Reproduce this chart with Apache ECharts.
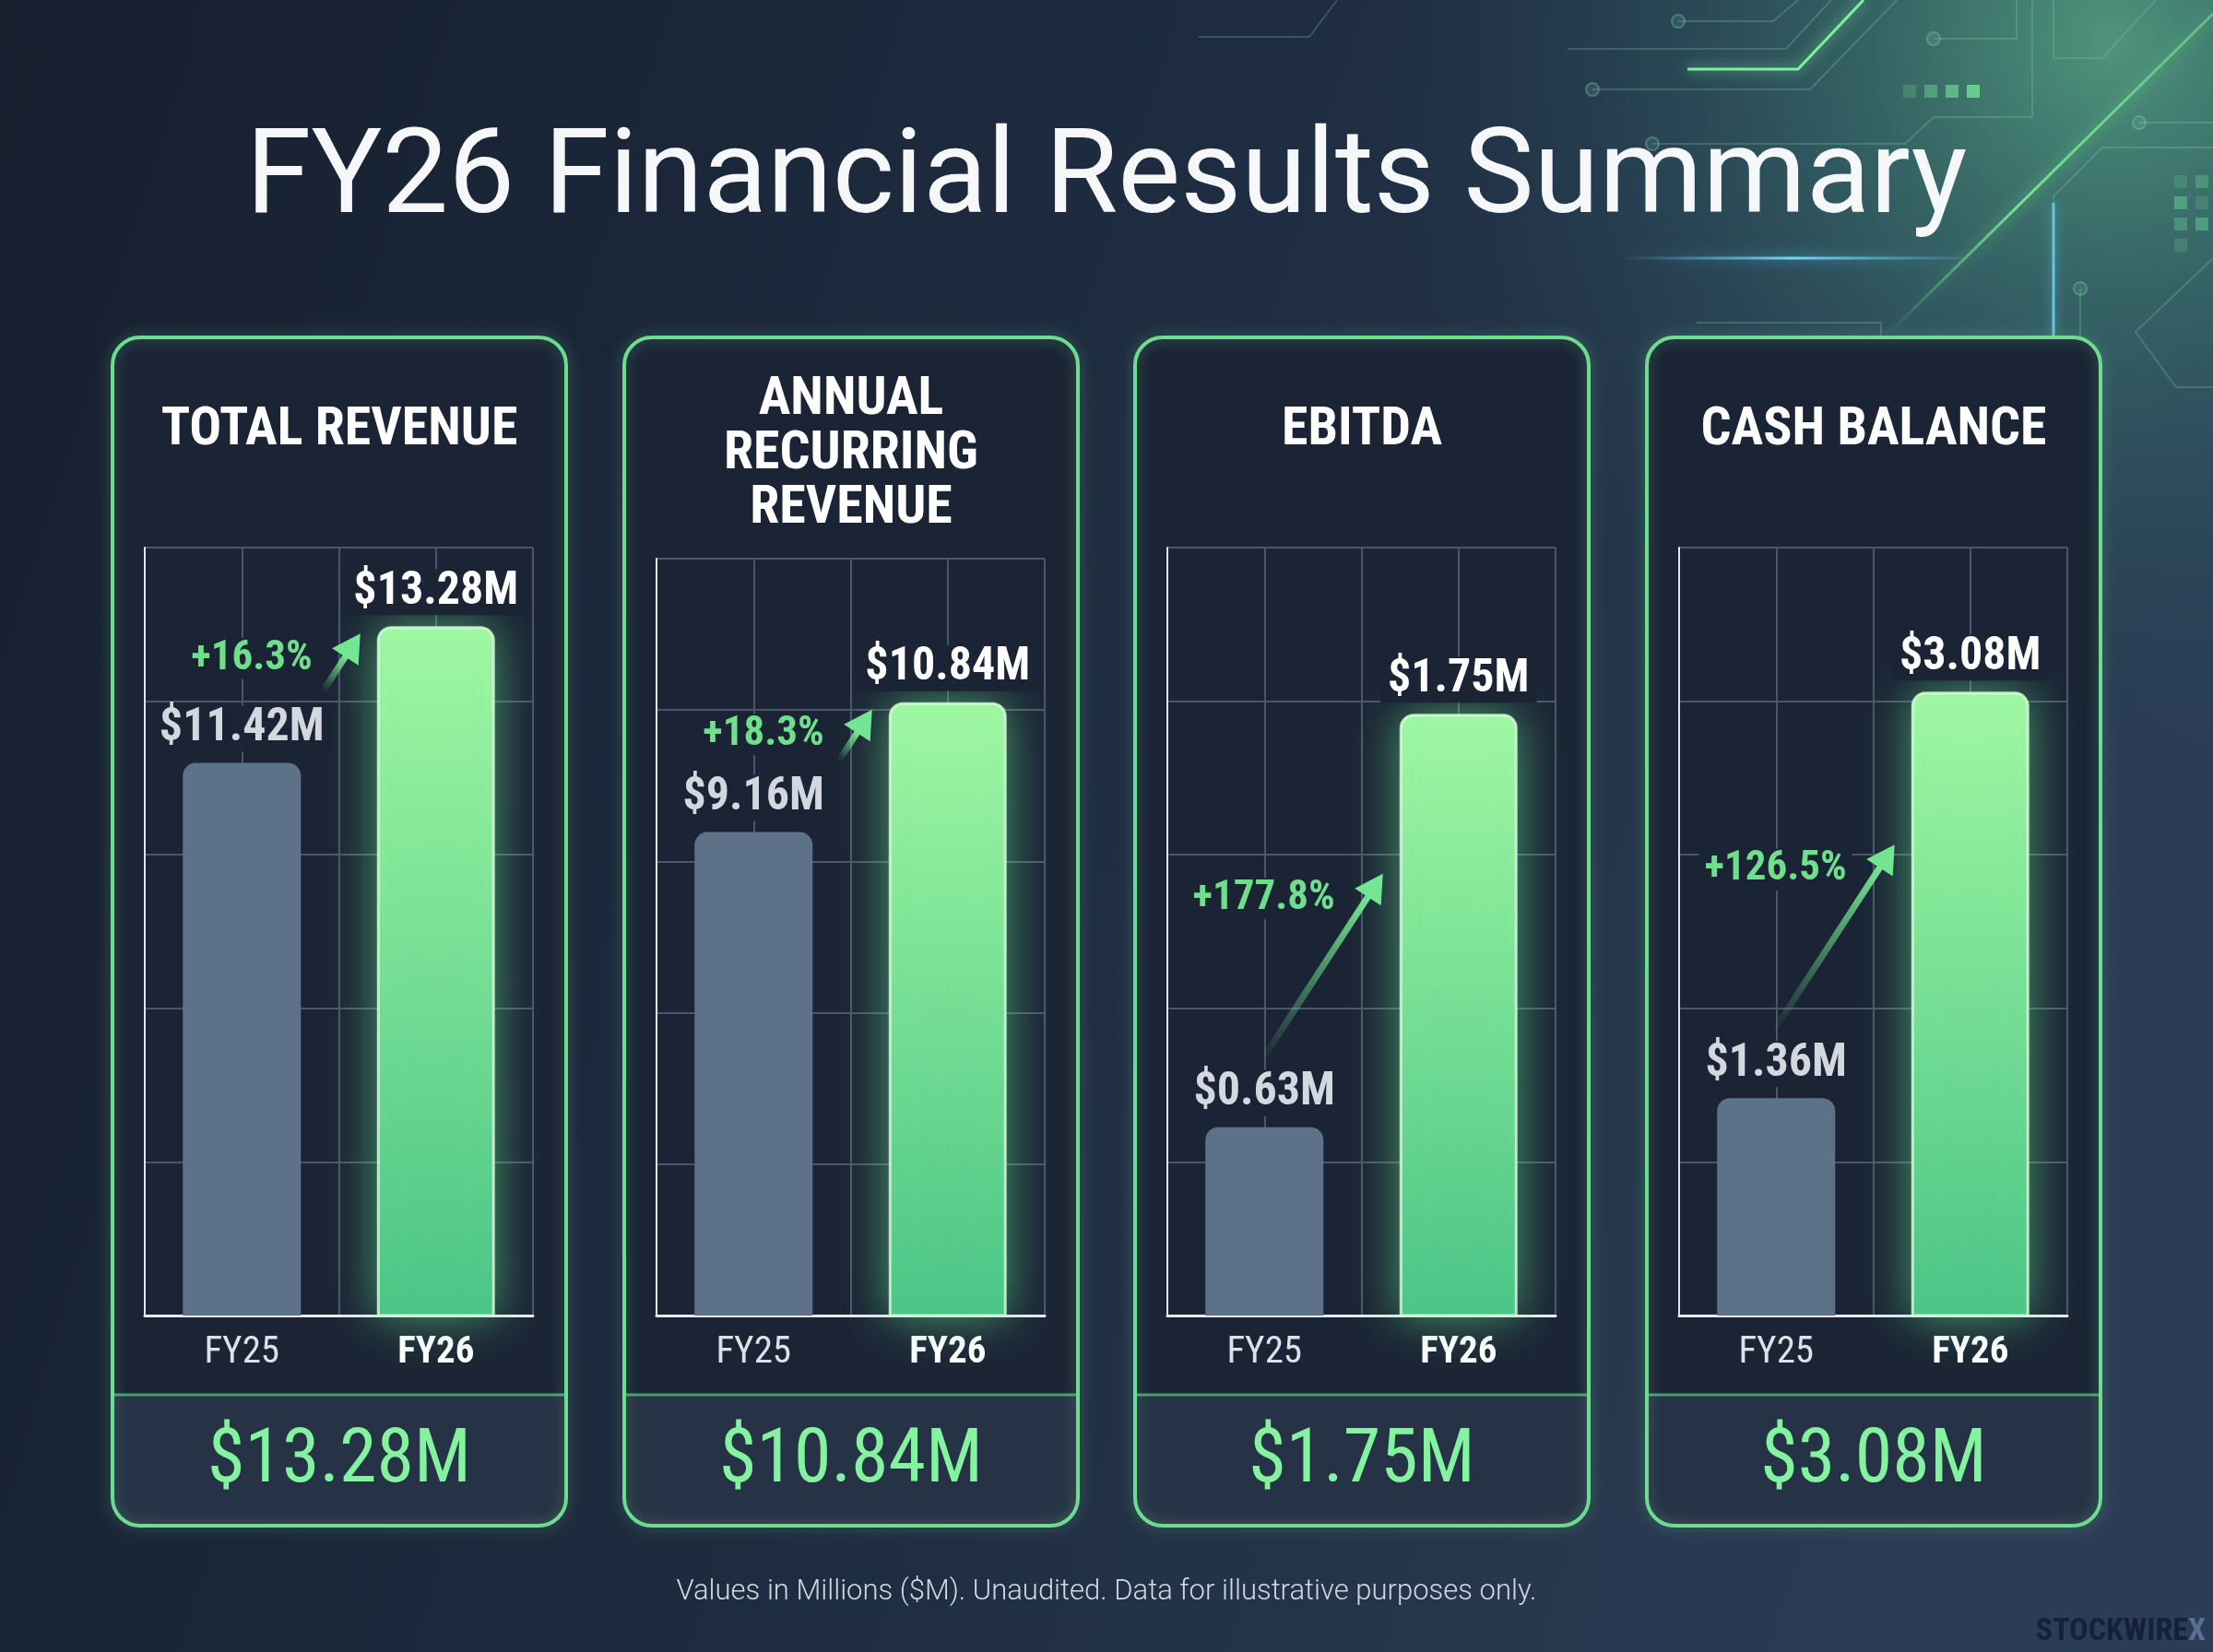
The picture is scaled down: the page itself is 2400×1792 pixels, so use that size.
<!DOCTYPE html>
<html>
<head>
<meta charset="utf-8">
<title>FY26 Financial Results Summary</title>
<script src="https://cdn.jsdelivr.net/npm/echarts@6/dist/echarts.min.js"></script>
<style>
  html, body { margin: 0; padding: 0; background: #182232; }
  #main { width: 2400px; height: 1792px; }
</style>
</head>
<body>
<div id="main"></div>
<script>
// data
var categories = ['FY25', 'FY26'];
var panelTitles = ['TOTAL REVENUE', 'ANNUAL\nRECURRING\nREVENUE', 'EBITDA', 'CASH BALANCE'];
var fy25Values = [11.42, 9.16, 0.63, 1.36];
var fy26Values = [13.28, 10.84, 1.75, 3.08];
// each panel has its own value range (as in the original picture)
var axisMin = [3.9, 2.9, 0.12, 0.44];
var axisMax = [14.35, 12.7, 2.2, 3.69];

var NARROW = '"Liberation Sans Narrow", "Roboto Condensed", Roboto, sans-serif';
var CARD_BG = '#1a2434';
var GREEN = '#6ddc8f';

// layout
var cardX = [122, 677, 1231, 1786];
var cardW = 492, cardTop = 366, cardBottom = 1655, cardDivider = 1513;
var plotTop = [594, 606, 594, 594];
var plotBottom = 1427;

var myChart = echarts.init(document.getElementById('main'));

var grids = [], xAxes = [], yAxes = [], series = [];
for (var i = 0; i < 4; i++) {
  grids.push({ left: cardX[i] + 35, top: plotTop[i], width: 421, height: plotBottom - plotTop[i] });

  // category axis (bars + labels)
  xAxes.push({
    type: 'category', gridIndex: i, data: categories,
    axisLine: { show: true, lineStyle: { color: '#e6eaef', width: 3 } },
    axisTick: { show: false },
    splitLine: { show: false },
    axisLabel: {
      margin: 20,
      formatter: function (v, idx) { return idx === 1 ? '{b|' + v + '}' : '{a|' + v + '}'; },
      rich: {
        a: { fontFamily: NARROW, fontSize: 41, color: '#dde2e8' },
        b: { fontFamily: NARROW, fontSize: 41, fontWeight: 'bold', color: '#ffffff' }
      }
    }
  });
  // grid columns
  xAxes.push({
    type: 'value', gridIndex: i, min: 0, max: 4, interval: 1, position: 'top',
    axisLine: { show: false }, axisTick: { show: false }, axisLabel: { show: false },
    splitLine: { show: true, lineStyle: { color: '#4b5668', width: 2 } }
  });
  // value axis for data
  yAxes.push({
    type: 'value', gridIndex: i, min: axisMin[i], max: axisMax[i],
    axisLine: { show: true, lineStyle: { color: '#dfe4ea', width: 2 } },
    axisTick: { show: false }, axisLabel: { show: false },
    splitLine: { show: false }
  });
  // grid rows
  yAxes.push({
    type: 'value', gridIndex: i, min: 0, max: 5, interval: 1, position: 'right',
    axisLine: { show: false }, axisTick: { show: false }, axisLabel: { show: false },
    splitLine: { show: true, lineStyle: { color: '#4b5668', width: 2 } }
  });

  series.push({
    type: 'bar',
    xAxisIndex: 2 * i,
    yAxisIndex: 2 * i,
    barWidth: 128,
    z: 3,
    data: [
      {
        value: fy25Values[i],
        itemStyle: { color: '#5d7289', borderRadius: [14, 14, 0, 0] },
        label: { color: '#d3d8df' }
      },
      {
        value: fy26Values[i],
        itemStyle: {
          color: new echarts.graphic.LinearGradient(0, 0, 0, 1, [
            { offset: 0, color: '#a0f8a2' },
            { offset: 1, color: '#4ac486' }
          ]),
          borderRadius: [14, 14, 0, 0],
          borderColor: 'rgba(220,255,226,0.8)',
          borderWidth: 3,
          shadowBlur: 50,
          shadowColor: 'rgba(100,230,140,0.6)'
        },
        label: { color: '#ffffff' }
      }
    ],
    label: {
      show: true,
      position: 'top',
      distance: 12,
      fontFamily: NARROW,
      fontSize: 50,
      fontWeight: 'bold',
      backgroundColor: CARD_BG,
      padding: [0, 8],
      formatter: function (p) { return '$' + p.value.toFixed(2) + 'M'; }
    }
  });
}

var option = {
  animation: false,
  backgroundColor: new echarts.graphic.LinearGradient(0, 0, 1, 0.4, [
    { offset: 0, color: '#161f2e' },
    { offset: 0.55, color: '#1f2d42' },
    { offset: 1, color: '#2a3d55' }
  ]),
  title: {
    text: 'FY26 Financial Results Summary',
    left: 'center',
    top: 129,
    textStyle: { fontFamily: 'Roboto', fontSize: 128, fontWeight: 'normal', color: '#f5f7f9' }
  },
  grid: grids,
  xAxis: xAxes,
  yAxis: yAxes,
  series: series
};
myChart.setOption(option);

// decoration, cards and annotations
var g = [];

// teal glow top-right
g.push({
  type: 'rect', z: -20, silent: true,
  shape: { x: 1000, y: 0, width: 1400, height: 1100 },
  style: {
    fill: new echarts.graphic.RadialGradient(0.92, 0.04, 0.72, [
      { offset: 0, color: 'rgba(85,165,130,0.85)' },
      { offset: 0.45, color: 'rgba(60,125,115,0.45)' },
      { offset: 1, color: 'rgba(40,70,90,0)' }
    ])
  }
});

// circuit traces
var traces = [
  [[1820, 23], [1923, 23], [1950, 0]],
  [[1700, 53], [1937, 53], [1986, 0]],
  [[1727, 97], [1963, 97], [2057, 0]],
  [[1792, 156], [2066, 156], [2097, 127], [2204, 127], [2204, 0]],
  [[2097, 42], [2187, 42], [2187, 0]],
  [[2227, 0], [2227, 63], [2280, 63], [2338, 0]],
  [[2320, 133], [2400, 133]],
  [[2400, 160], [2280, 160], [2227, 213], [2227, 363]],
  [[2256, 313], [2256, 420]],
  [[2400, 280], [2316, 360], [2360, 420], [2400, 420]],
  [[1450, 0], [1420, 40], [1300, 40]],
  [[1840, 350], [2040, 350], [2040, 366]]
];
traces.forEach(function (pts) {
  g.push({ type: 'polyline', z: -15, silent: true, shape: { points: pts },
    style: { stroke: 'rgba(140,210,180,0.25)', lineWidth: 2, fill: null } });
});
[[1820, 23], [1727, 97], [1792, 156], [2097, 42], [2320, 133], [2256, 313]].forEach(function (c) {
  g.push({ type: 'circle', z: -15, silent: true, shape: { cx: c[0], cy: c[1], r: 7 },
    style: { stroke: 'rgba(140,210,180,0.35)', lineWidth: 2, fill: 'rgba(120,200,170,0.15)' } });
});
// bright green traces
g.push({ type: 'polyline', z: -14, silent: true, shape: { points: [[1830, 75], [1950, 75], [2021, 0]] },
  style: { stroke: '#7ef0a0', lineWidth: 3, fill: null, shadowBlur: 14, shadowColor: 'rgba(120,240,150,0.9)' } });
g.push({ type: 'line', z: -14, silent: true, shape: { x1: 2050, y1: 360, x2: 2400, y2: 15 },
  style: { stroke: new echarts.graphic.LinearGradient(0, 1, 1, 0, [
      { offset: 0, color: 'rgba(120,240,150,0)' },
      { offset: 0.4, color: 'rgba(120,240,150,0.9)' },
      { offset: 1, color: 'rgba(120,240,150,0.5)' }
    ]), lineWidth: 3, shadowBlur: 16, shadowColor: 'rgba(120,240,150,0.9)' } });
// cyan glow under title
g.push({ type: 'line', z: -14, silent: true, shape: { x1: 1760, y1: 280, x2: 2130, y2: 280 },
  style: { stroke: new echarts.graphic.LinearGradient(0, 0, 1, 0, [
      { offset: 0, color: 'rgba(90,200,240,0)' },
      { offset: 0.5, color: 'rgba(120,220,250,0.95)' },
      { offset: 1, color: 'rgba(90,200,240,0.1)' }
    ]), lineWidth: 3, shadowBlur: 14, shadowColor: 'rgba(90,200,250,0.9)' } });
g.push({ type: 'line', z: -14, silent: true, shape: { x1: 2227, y1: 220, x2: 2227, y2: 366 },
  style: { stroke: 'rgba(110,210,245,0.8)', lineWidth: 3, shadowBlur: 12, shadowColor: 'rgba(90,200,250,0.9)' } });
// small squares
[0.25, 0.45, 0.65, 0.85].forEach(function (a, k) {
  g.push({ type: 'rect', z: -15, silent: true, shape: { x: 2064 + k * 23, y: 92, width: 14, height: 14 },
    style: { fill: 'rgba(110,220,150,' + a + ')' } });
});
[[2358, 190], [2381, 190], [2358, 213], [2381, 213], [2358, 236], [2381, 236], [2358, 259]].forEach(function (p, k) {
  g.push({ type: 'rect', z: -15, silent: true, shape: { x: p[0], y: p[1], width: 14, height: 14 },
    style: { fill: 'rgba(110,220,150,' + (0.2 + (k % 3) * 0.12) + ')' } });
});

for (var c = 0; c < 4; c++) {
  var x0 = cardX[c];
  // card body
  g.push({ type: 'rect', z: -10, silent: true,
    shape: { x: x0, y: cardTop, width: cardW, height: cardBottom - cardTop, r: 30 },
    style: { fill: CARD_BG } });
  // bottom strip
  g.push({ type: 'rect', z: -9, silent: true,
    shape: { x: x0, y: cardDivider, width: cardW, height: cardBottom - cardDivider, r: [0, 0, 30, 30] },
    style: { fill: '#263246' } });
  g.push({ type: 'line', z: -8, silent: true,
    shape: { x1: x0, y1: cardDivider, x2: x0 + cardW, y2: cardDivider },
    style: { stroke: '#4f9a73', lineWidth: 3 } });
  // border
  g.push({ type: 'rect', z: 10, silent: true,
    shape: { x: x0, y: cardTop, width: cardW, height: cardBottom - cardTop, r: 30 },
    style: { fill: null, stroke: GREEN, lineWidth: 4, shadowBlur: 14, shadowColor: 'rgba(110,220,140,0.45)' } });
  // card title
  var lines = panelTitles[c].split('\n').length;
  g.push({ type: 'text', z: 10, silent: true,
    style: {
      text: panelTitles[c], x: x0 + cardW / 2, y: lines > 1 ? 493 : 467,
      align: 'center', verticalAlign: 'middle',
      fontFamily: NARROW, fontSize: 58, fontWeight: 'bold', lineHeight: 59,
      fill: '#ffffff'
    } });
  // big value
  g.push({ type: 'text', z: 10, silent: true,
    style: {
      text: '$' + fy26Values[c].toFixed(2) + 'M', x: x0 + cardW / 2, y: 1586,
      align: 'center', verticalAlign: 'middle',
      fontFamily: NARROW, fontSize: 82, fill: '#84f3a0',
      shadowBlur: 24, shadowColor: 'rgba(110,240,150,0.9)'
    } });

  // growth arrow
  var p0 = myChart.convertToPixel({ xAxisIndex: 2 * c, yAxisIndex: 2 * c }, [0, fy25Values[c]]);
  var p1 = myChart.convertToPixel({ xAxisIndex: 2 * c, yAxisIndex: 2 * c }, [1, fy26Values[c]]);
  var tailY = p0[1] - 80;
  var headX = p1[0] - 64 - 18;
  var headY = Math.max(p1[1] + 8, tailY - 195);
  var tailX = headX - (tailY - headY) / Math.tan(57 * Math.PI / 180);
  var dx = headX - tailX, dy = headY - tailY, len = Math.sqrt(dx * dx + dy * dy);
  var ux = dx / len, uy = dy / len;
  var bx = headX - ux * 30, by = headY - uy * 30;
  g.push({ type: 'line', z: 5, silent: true,
    shape: { x1: tailX, y1: tailY, x2: bx + ux * 4, y2: by + uy * 4 },
    style: {
      stroke: new echarts.graphic.LinearGradient(tailX, tailY, bx, by, [
        { offset: 0, color: 'rgba(110,224,140,0.05)' },
        { offset: 1, color: '#74e592' }
      ], true),
      lineWidth: 7, lineCap: 'round'
    } });
  g.push({ type: 'polygon', z: 5, silent: true,
    shape: { points: [[headX, headY], [bx - uy * 17, by + ux * 17], [bx + uy * 17, by - ux * 17]] },
    style: { fill: '#74e592' } });
  var pct = (fy26Values[c] - fy25Values[c]) / fy25Values[c] * 100;
  g.push({ type: 'text', z: 6, silent: true,
    style: {
      text: '+' + pct.toFixed(1) + '%', x: headX - 46, y: headY + 27,
      align: 'right', verticalAlign: 'middle',
      fontFamily: NARROW, fontSize: 45, fontWeight: 'bold', fill: '#6fdf8c',
      backgroundColor: CARD_BG, padding: [0, 6]
    } });
}

// footnote and watermark
g.push({ type: 'text', silent: true,
  style: {
    text: 'Values in Millions ($M). Unaudited. Data for illustrative purposes only.',
    x: 1200, y: 1727, align: 'center', verticalAlign: 'middle',
    fontFamily: 'Roboto', fontWeight: 300, fontSize: 31, fill: '#d2d8e1'
  } });
g.push({ type: 'text', silent: true,
  style: {
    text: '{a|STOCKWIRE}{b|X}', x: 2392, y: 1770, align: 'right', verticalAlign: 'middle',
    rich: {
      a: { fontFamily: NARROW, fontWeight: 'bold', fontSize: 34, fill: '#15213a', color: '#15213a' },
      b: { fontFamily: NARROW, fontWeight: 'bold', fontSize: 34, fill: '#5a6f96', color: '#5a6f96' }
    }
  } });

myChart.setOption({ graphic: g });
</script>
</body>
</html>
